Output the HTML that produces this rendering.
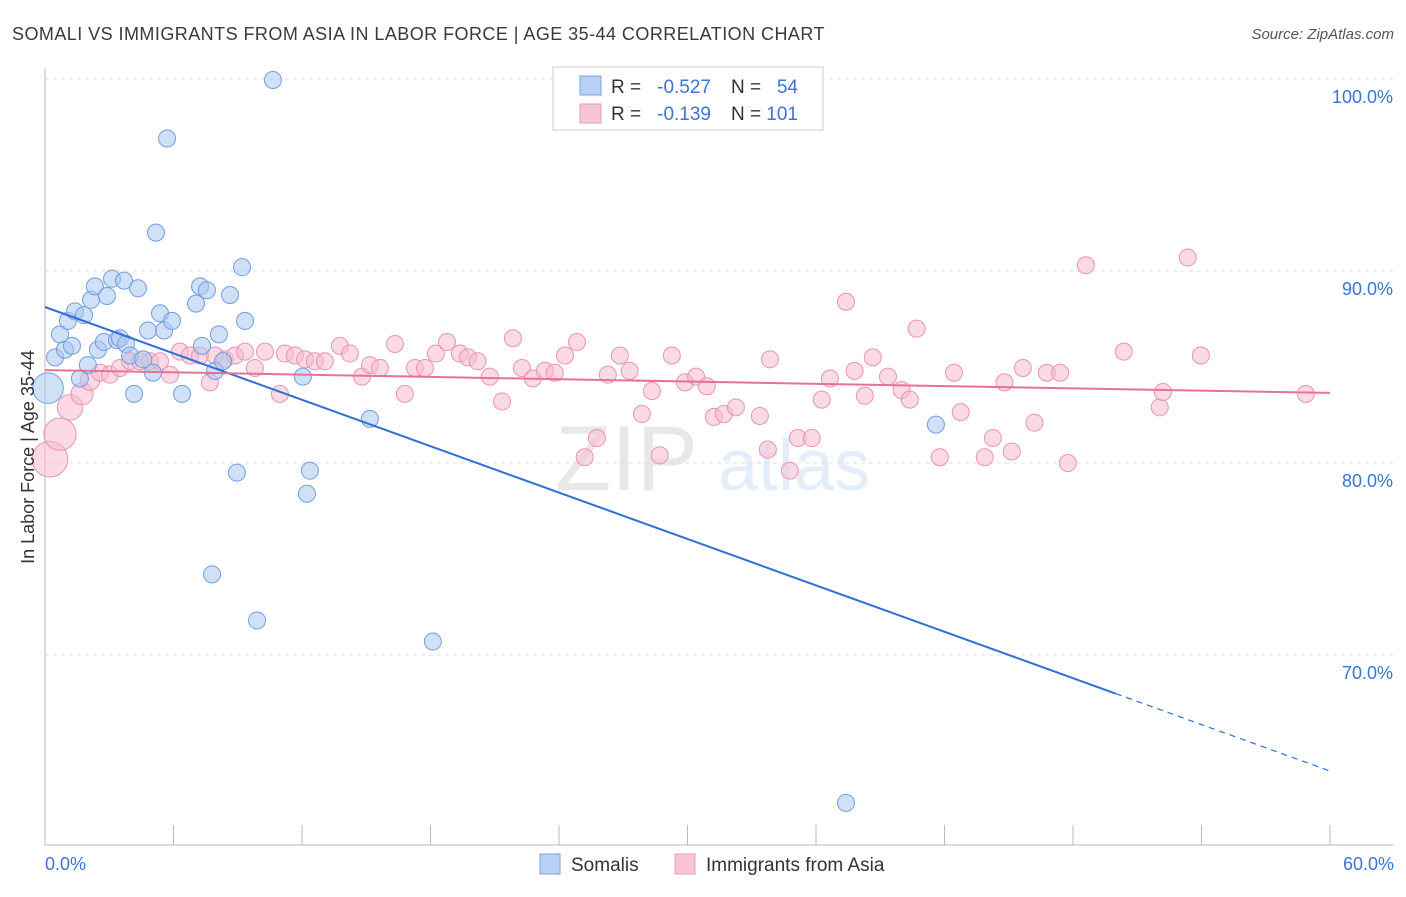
<!DOCTYPE html>
<html><head><meta charset="utf-8">
<style>
body{margin:0;background:#fff;font-family:"Liberation Sans",sans-serif;}
svg text{font-family:"Liberation Sans",sans-serif;}
</style></head>
<body>
<svg id="chart" width="1406" height="892" viewBox="0 0 1406 892" xmlns="http://www.w3.org/2000/svg">
<text x="12" y="40" font-size="18" fill="#3a3a3a" letter-spacing="0.45">SOMALI VS IMMIGRANTS FROM ASIA IN LABOR FORCE | AGE 35-44 CORRELATION CHART</text>
<text x="1394" y="39" font-size="15" fill="#555" font-style="italic" text-anchor="end">Source: ZipAtlas.com</text>
<g opacity="0.13">
<text x="555" y="490" font-size="92" font-family="Liberation Serif" fill="#555">ZIP</text>
<text x="718" y="490" font-size="72" fill="#3b7ddd">atlas</text>
</g>
<g id="grid"></g>
<g id="axes"></g>
<g id="marks"></g>
<text transform="translate(34,457) rotate(-90)" font-size="18" fill="#333" text-anchor="middle">In Labor Force | Age 35-44</text>
<text x="45" y="870" font-size="18" fill="#3b74d4">0.0%</text>
<text x="1394" y="870" font-size="18" fill="#3b74d4" text-anchor="end">60.0%</text>
<g>
<rect x="553" y="67" width="270" height="63" fill="#fff" stroke="#ccc"/>
<rect x="580" y="76" width="21" height="19" fill="#b7d0f3" stroke="#7aa3e0"/>
<rect x="580" y="104" width="21" height="19" fill="#f8c5d5" stroke="#eb9ab5"/>
<text x="611" y="93" font-size="19" fill="#333">R =</text>
<text x="711" y="93" font-size="19" fill="#3b74d4" text-anchor="end">-0.527</text>
<text x="731" y="93" font-size="19" fill="#333">N =</text>
<text x="798" y="93" font-size="19" fill="#3b74d4" text-anchor="end">54</text>
<text x="611" y="120" font-size="19" fill="#333">R =</text>
<text x="711" y="120" font-size="19" fill="#3b74d4" text-anchor="end">-0.139</text>
<text x="731" y="120" font-size="19" fill="#333">N =</text>
<text x="798" y="120" font-size="19" fill="#3b74d4" text-anchor="end">101</text>
</g>
<g>
<rect x="540" y="854" width="20" height="20" fill="#b7d0f3" stroke="#7aa3e0"/>
<text x="571" y="871" font-size="19" fill="#333">Somalis</text>
<rect x="675" y="854" width="20" height="20" fill="#f8c5d5" stroke="#eb9ab5"/>
<text x="706" y="871" font-size="19" fill="#333">Immigrants from Asia</text>
</g>
</svg>
<script>
const yTicks=[100,90,80,70];
const yTickLabels=["100.0%","90.0%","80.0%","70.0%"];
const xTicks=[0,6,12,18,24,30,36,42,48,54,60];
const blueX=[0.14,0.47,0.7,0.93,1.07,1.26,1.4,1.63,1.82,2.0,2.15,2.33,2.47,2.75,2.89,3.13,3.36,3.5,3.69,3.78,3.97,4.16,4.34,4.58,4.81,5.04,5.18,5.37,5.56,5.7,5.93,6.4,7.05,7.24,7.33,7.56,7.8,7.94,8.12,8.31,8.64,8.96,9.2,9.34,9.9,10.64,12.04,12.23,12.37,15.17,18.11,41.6,37.4];
const blueY=[83.9,85.5,86.7,85.9,87.4,86.1,87.9,84.4,87.7,85.1,88.5,89.2,85.9,86.3,88.7,89.6,86.4,86.5,89.5,86.2,85.6,83.6,89.1,85.4,86.9,84.7,92.0,87.8,86.9,96.9,87.4,83.6,88.3,89.2,86.1,89.0,74.2,84.8,86.7,85.3,88.75,79.5,90.2,87.4,71.8,99.95,84.5,78.4,79.6,82.3,70.7,82.0,62.3];
const blueSize=[1.8];
const pinkX=[0.23,0.7,1.17,1.73,2.1,2.57,3.03,3.5,3.97,4.43,4.9,5.37,5.84,6.3,6.77,7.24,7.7,7.94,8.4,8.87,9.34,9.8,10.27,10.97,11.2,11.67,12.14,12.6,13.07,13.77,14.24,14.8,15.17,15.64,16.34,16.8,17.27,17.74,18.25,18.77,19.37,19.75,20.2,20.77,21.34,21.85,22.27,22.78,23.34,23.8,24.28,24.84,25.2,25.77,26.28,26.84,27.3,27.87,28.34,28.7,29.27,29.88,30.4,30.9,31.23,31.7,32.26,33.38,33.75,33.85,34.78,35.15,35.8,36.27,36.65,37.4,37.8,38.28,38.65,39.36,40.0,40.38,40.7,41.78,42.44,42.76,43.88,44.26,44.8,45.14,45.66,46.2,46.78,47.4,47.76,48.6,50.37,52.05,52.2,53.36,53.97,58.87];
const pinkY=[80.2,81.5,82.9,83.6,84.3,84.7,84.6,84.95,85.3,85.3,85.3,85.3,84.6,85.8,85.6,85.6,84.2,85.6,85.4,85.6,85.8,84.95,85.8,83.6,85.7,85.6,85.4,85.3,85.3,86.1,85.7,84.5,85.1,84.95,86.2,83.6,84.95,84.95,85.7,86.3,85.7,85.5,85.3,84.5,83.2,86.5,84.95,84.4,84.8,84.7,85.6,86.3,80.3,81.3,84.6,85.6,84.8,82.55,83.75,80.4,85.6,84.2,84.5,84.0,82.4,82.55,82.9,82.45,80.7,85.4,79.6,81.3,81.3,83.3,84.4,88.4,84.8,83.5,85.5,84.5,83.8,83.3,87.0,80.3,84.7,82.65,80.3,81.3,84.2,80.6,84.95,82.1,84.7,84.7,80.0,90.3,85.8,82.9,83.7,90.7,85.6,83.6];
const pinkSize=[2.1,1.9,1.5,1.3,1.15];
const blueTrend=[88.125,63.96]; const blueSolidEnd=50;
const pinkTrend=[84.84,83.65];

const NS="http://www.w3.org/2000/svg";
const X=v=>45+v*(1285/60);
const Y=v=>79+(100-v)*19.2;
function mk(tag,attrs,parent){const e=document.createElementNS(NS,tag);for(const k in attrs)e.setAttribute(k,attrs[k]);parent.appendChild(e);return e;}
const grid=document.getElementById('grid'),axes=document.getElementById('axes'),marks=document.getElementById('marks');
yTicks.forEach((t,i)=>{
 const l=mk('line',{x1:45,x2:1394,y1:Y(t),y2:Y(t),stroke:'#ddd','stroke-dasharray':'4,4'},grid);
 
 
 const tx=mk('text',{x:1393,y:Y(t)+24,'font-size':18,fill:'#3b74d4','text-anchor':'end'},axes);
 tx.textContent=yTickLabels[i];
 
 
});
const ax=mk('line',{x1:45,x2:45,y1:68,y2:845,stroke:'#bbb'},axes);


const bx=mk('line',{x1:45,x2:1394,y1:845,y2:845,stroke:'#bbb'},axes);


xTicks.forEach(t=>{
 const l=mk('line',{x1:X(t),x2:X(t),y1:825,y2:845,stroke:'#bbb'},axes);
 
 
});
function pts(xs,ys,sz,fill,stroke,name){
 xs.forEach((x,i)=>{
  const r=8.5*(sz[i]||1);
  const c=mk('circle',{cx:X(x),cy:Y(ys[i]),r:r,fill:fill,'fill-opacity':0.55,stroke:stroke,'stroke-width':1},marks);
  
  
 });
}
pts(pinkX,pinkY,pinkSize,'#f8bcd0','#e994b0','asia-point');
pts(blueX,blueY,blueSize,'#a9c7f1','#6f9fe0','somali-point');
const bm=blueTrend[0]+(blueTrend[1]-blueTrend[0])*blueSolidEnd/60;
const b1=mk('line',{x1:X(0),y1:Y(blueTrend[0]),x2:X(blueSolidEnd),y2:Y(bm),stroke:'#2f6fd8','stroke-width':2},marks);


const b2=mk('line',{x1:X(blueSolidEnd),y1:Y(bm),x2:X(60),y2:Y(blueTrend[1]),stroke:'#2f6fd8','stroke-width':1.2,'stroke-dasharray':'6,5'},marks);


const p1=mk('line',{x1:X(0),y1:Y(pinkTrend[0]),x2:X(60),y2:Y(pinkTrend[1]),stroke:'#e8709a','stroke-width':2},marks);


</script>
</body></html>
